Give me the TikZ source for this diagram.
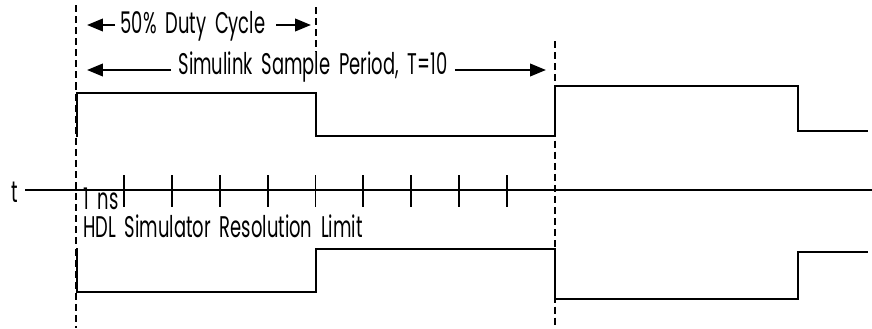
\documentclass[tikz,border=0pt]{standalone}
\usepackage{fontspec}
\setmainfont{Poppins}[FakeStretch=0.6]
\usetikzlibrary{arrows.meta,positioning}

\begin{document}
\begin{tikzpicture}[x=0.02cm, y=-0.02cm,
    signal/.style={line width=1.1pt},
    divider/.style={line width=1.3pt, dash pattern=on 4pt off 2.3pt},
    tickmark/.style={line width=1.1pt},
    lbl/.style={inner sep=0pt, font={\fontsize{17}{19}\selectfont\spaceskip=5pt plus 1pt}},
    dimarrow/.style={line width=1.4pt, -{Triangle[length=9pt,width=7pt]}}]
        \useasboundingbox (0,0) rectangle (872,328);

        % Dashed lines at the sample boundaries
        \coordinate (s0 top) at (76,5);
        \coordinate (s0 bot) at (76,328);
        \coordinate (half top) at (316,7);
        \coordinate (half bot) at (316,52);
        \coordinate (s1 top) at (555,41);
        \coordinate (s1 bot) at (555,328);
        \draw[divider] (s0 top) -- (s0 bot);
        \draw[divider] (half top) -- (half bot);
        \draw[divider] (s1 top) -- (s1 bot);

        % Labels with their dimension arrows
        \node[lbl] (duty) at (193,26) {50\% Duty Cycle};
        \node[lbl] (period) at (313,67) {Simulink Sample Period, T=10};
        \coordinate (duty l) at (87,25);
        \coordinate (duty r) at (311,25);
        \coordinate (period l) at (87,70);
        \coordinate (period r) at (546,70);
        \draw[dimarrow] ([xshift=-3pt]duty.west |- duty l) -- (duty l);
        \draw[dimarrow] ([xshift=6pt]duty.east |- duty r) -- (duty r);
        \draw[dimarrow] ([xshift=-4pt]period.west |- period l) -- (period l);
        \draw[dimarrow] ([xshift=4pt]period.east |- period r) -- (period r);

        % Time axis with 1 ns ticks
        \node[lbl] (t) at (15,192) {t};
        \coordinate (axis l) at (25,190);
        \coordinate (axis r) at (872,190);
        \draw[signal] (axis l) -- (axis r);
        \foreach \i in {1,...,9}
            \draw[tickmark] ({76+47.9*\i},175) -- ++(0,32);
        \node[lbl, anchor=base west] (ns) at (83,209) {1 ns};
        \node[lbl, anchor=base west] (hdl) at (83,237) {HDL Simulator Resolution Limit};

        % Upper waveform
        \draw[signal] (77,137) -- (77,93) -- (316,93) -- (316,136) -- (555,136)
            -- (555,86) -- (798,86) -- (798,131) -- (868,131);

        % Lower waveform
        \draw[signal] (77,248) -- (77,292) -- (316,292) -- (316,249) -- (555,249)
            -- (555,299) -- (798,299) -- (798,252) -- (868,252);
\end{tikzpicture}
\end{document}
